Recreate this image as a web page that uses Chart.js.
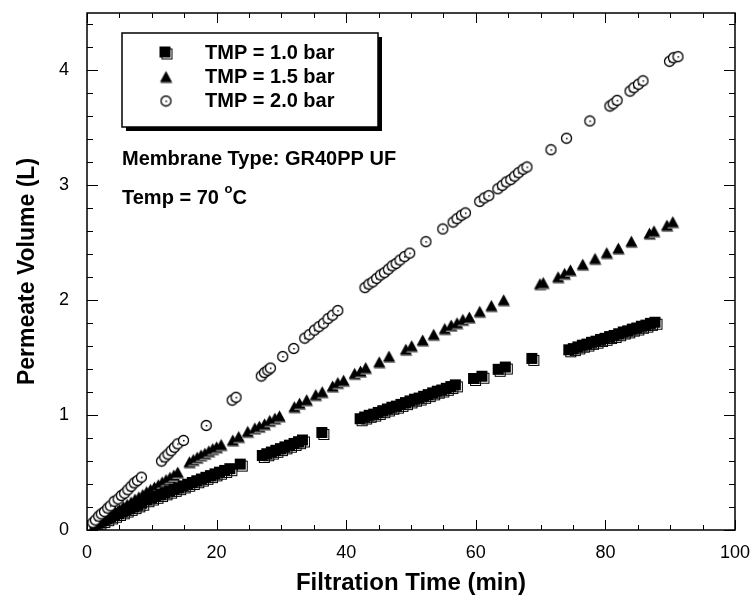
<!DOCTYPE html>
<html>
<head>
<meta charset="utf-8">
<title>Permeate Volume vs Filtration Time</title>
<script src="https://cdn.jsdelivr.net/npm/chart.js@4.4.1/dist/chart.umd.min.js"></script>
<style>
    html, body { margin: 0; padding: 0; background: #fff; }
    #wrap { width: 752px; height: 606px; }
</style>
</head>
<body>
<div id="wrap"><canvas id="fluxChart" width="752" height="606"></canvas></div>
<script>
// Data
const seriesLabels = ['TMP = 1.0 bar', 'TMP = 1.5 bar', 'TMP = 2.0 bar'];

const time10 = [1.4, 2.0, 2.6, 3.2, 3.8, 4.4, 5.0, 5.6, 6.2, 6.8, 7.4, 8.0, 8.6,
    9.4, 10.1, 10.8, 11.5, 12.2, 12.9, 13.6, 14.3, 15.0, 15.7, 16.4, 17.1, 17.8, 18.5, 19.2, 19.9, 20.6, 21.4, 22.2, 23.8,
    27.2, 27.9, 28.6, 29.3, 30.0, 30.7, 31.4, 32.1, 32.8, 33.4, 36.4,
    42.3, 43.0, 43.7, 44.4, 45.1, 45.8, 46.5, 47.2, 47.9, 48.6, 49.3, 50.0, 50.7, 51.4, 52.1, 52.8, 53.5, 54.2, 54.9, 55.6, 56.3, 57.0,
    59.8, 61.1, 63.6, 64.7, 68.8,
    74.5, 75.2, 75.9, 76.6, 77.3, 78.0, 78.7, 79.4, 80.1, 80.8, 81.5, 82.2, 82.9, 83.6, 84.3, 85.0, 85.7, 86.4, 87.1, 87.8];
const volume10 = [0.04, 0.06, 0.075, 0.09, 0.105, 0.12, 0.135, 0.15, 0.165, 0.18, 0.195, 0.21, 0.225,
    0.255, 0.27, 0.285, 0.30, 0.315, 0.33, 0.345, 0.36, 0.375, 0.39, 0.405, 0.42, 0.435, 0.45, 0.465, 0.48, 0.495, 0.51, 0.525, 0.565,
    0.64, 0.655, 0.67, 0.685, 0.70, 0.715, 0.73, 0.745, 0.76, 0.775, 0.84,
    0.96, 0.975, 0.99, 1.0, 1.015, 1.03, 1.045, 1.06, 1.07, 1.085, 1.10, 1.115, 1.13, 1.14, 1.155, 1.17, 1.185, 1.20, 1.21, 1.225, 1.24, 1.255,
    1.31, 1.33, 1.39, 1.41, 1.485,
    1.56, 1.57, 1.585, 1.60, 1.61, 1.625, 1.635, 1.65, 1.66, 1.675, 1.685, 1.70, 1.715, 1.725, 1.74, 1.75, 1.765, 1.775, 1.79, 1.80];

const time15 = [1.4, 2.0, 2.6, 3.2, 3.8, 4.4, 5.0, 5.6, 6.2, 6.8, 7.4, 8.0, 8.6, 9.2, 9.8, 10.4, 11.0, 11.6, 12.2, 12.8, 13.4, 14.0,
    15.8, 16.4, 17.0, 17.6, 18.2, 18.8, 19.4, 20.0, 20.7, 22.5, 23.4,
    24.8, 25.9, 26.6, 27.4, 28.2, 29.0, 29.7, 32.0, 32.8, 33.9, 35.3, 36.3, 37.9, 38.7, 39.6,
    41.3, 42.2, 43.0, 45.1, 46.6, 49.2, 50.1, 51.8, 53.5, 55.2, 56.2, 57.1, 58.0, 59.0, 60.6, 62.4, 64.3,
    69.9, 70.4, 72.7, 73.7, 74.6, 76.5, 78.4, 80.2, 82.0, 84.0, 86.8, 87.5, 89.5, 90.4];
const volume15 = [0.05, 0.07, 0.09, 0.11, 0.135, 0.155, 0.175, 0.20, 0.22, 0.24, 0.265, 0.285, 0.305, 0.33, 0.35, 0.37, 0.39, 0.415, 0.435, 0.455, 0.475, 0.50,
    0.59, 0.61, 0.63, 0.65, 0.665, 0.685, 0.705, 0.72, 0.74, 0.78, 0.81,
    0.855, 0.885, 0.90, 0.92, 0.95, 0.97, 0.99, 1.07, 1.10, 1.13, 1.175, 1.20, 1.25, 1.28, 1.30,
    1.36, 1.38, 1.41, 1.46, 1.51, 1.57, 1.60, 1.65, 1.70, 1.75, 1.78, 1.80, 1.83, 1.85, 1.90, 1.95, 2.00,
    2.14, 2.15, 2.20, 2.23, 2.26, 2.31, 2.36, 2.41, 2.45, 2.51, 2.58, 2.60, 2.65, 2.68];

const time20 = [0.9, 1.3, 1.8, 2.2, 2.7, 3.2, 3.6, 4.2, 4.8, 5.3, 5.8, 6.3, 6.8, 7.3, 7.8, 8.4,
    11.5, 12.0, 12.5, 13.0, 13.5, 14.0, 14.9, 18.4, 22.4, 23.0, 26.9, 27.4, 27.9, 28.3, 30.2, 31.9,
    33.6, 34.3, 35.1, 35.8, 36.5, 37.2, 37.9, 38.7,
    42.9, 43.5, 44.1, 44.7, 45.3, 45.9, 46.5, 47.1, 47.7, 48.3, 49.0, 49.8, 52.3, 54.9,
    56.5, 57.1, 57.8, 58.4, 60.6, 61.3, 62.0, 63.4, 64.1, 64.7, 65.4, 66.0, 66.6, 67.3, 67.9,
    71.6, 74.0, 77.6, 80.7, 81.2, 81.8, 83.8, 84.4, 85.1, 85.8, 89.9, 90.5, 91.2];
const volume20 = [0.064, 0.087, 0.12, 0.14, 0.16, 0.19, 0.21, 0.25, 0.27, 0.30, 0.32, 0.35, 0.38, 0.41, 0.43, 0.46,
    0.60, 0.635, 0.66, 0.69, 0.72, 0.75, 0.78, 0.91, 1.13, 1.155, 1.34, 1.37, 1.39, 1.41, 1.51, 1.58,
    1.67, 1.70, 1.74, 1.77, 1.80, 1.84, 1.87, 1.91,
    2.11, 2.14, 2.16, 2.19, 2.22, 2.24, 2.27, 2.30, 2.32, 2.35, 2.38, 2.41, 2.51, 2.62,
    2.68, 2.71, 2.74, 2.76, 2.86, 2.89, 2.91, 2.97, 3.00, 3.03, 3.05, 3.08, 3.11, 3.14, 3.16,
    3.31, 3.41, 3.56, 3.69, 3.71, 3.74, 3.82, 3.85, 3.88, 3.91, 4.08, 4.11, 4.12];

const xTicks = [0, 20, 40, 60, 80, 100];
const yTicks = [0, 1, 2, 3, 4];

const FONT = '"Liberation Sans", Arial, Helvetica, sans-serif';

// Marker images (with the little drop shadows of the original plotting program)
function makeSquare() {
    const c = document.createElement('canvas');
    c.width = 15; c.height = 15;
    const g = c.getContext('2d');
    g.strokeStyle = '#000';
    g.lineWidth = 1;
    g.strokeRect(3.5, 3.5, 10, 10);
    g.fillStyle = '#000';
    g.fillRect(1, 1, 11, 11);
    return c;
}

function makeTriangle() {
    const c = document.createElement('canvas');
    c.width = 15; c.height = 15;
    const g = c.getContext('2d');
    g.fillStyle = '#888';
    g.beginPath();
    g.moveTo(8, 3); g.lineTo(14, 14); g.lineTo(2, 14); g.closePath();
    g.fill();
    g.fillStyle = '#000';
    g.beginPath();
    g.moveTo(7.5, 1.5); g.lineTo(13.5, 12.5); g.lineTo(1.5, 12.5); g.closePath();
    g.fill();
    return c;
}

function makeCircle() {
    const c = document.createElement('canvas');
    c.width = 13; c.height = 13;
    const g = c.getContext('2d');
    g.fillStyle = '#fff';
    g.strokeStyle = '#000';
    g.lineWidth = 1.3;
    g.beginPath();
    g.arc(6.5, 6.5, 5, 0, Math.PI * 2);
    g.fill();
    g.stroke();
    g.fillStyle = '#000';
    g.fillRect(6, 6, 1.5, 1.5);
    return c;
}

const markers = [makeSquare(), makeTriangle(), makeCircle()];

function toPoints(xs, ys) {
    return xs.map((x, i) => ({ x: x, y: ys[i] }));
}

// Inward tick marks on all four sides plus the frame
const frameTicks = {
    id: 'frameTicks',
    afterDatasetsDraw(chart) {
        const ctx = chart.ctx;
        const area = chart.chartArea;
        const xs = chart.scales.x;
        const ys = chart.scales.y;
        ctx.save();
        ctx.strokeStyle = '#000';
        ctx.lineWidth = 1;
        ctx.beginPath();
        for (let v = 0; v <= 100; v += 5) {
            const px = Math.round(xs.getPixelForValue(v)) + 0.5;
            const len = v % 20 === 0 ? 10 : 5;
            ctx.moveTo(px, area.bottom); ctx.lineTo(px, area.bottom - len);
            ctx.moveTo(px, area.top); ctx.lineTo(px, area.top + len);
        }
        for (let k = 0; k <= 22; k++) {
            const v = k * 0.2;
            const py = Math.round(ys.getPixelForValue(v)) + 0.5;
            const len = k % 5 === 0 ? 11 : 6;
            ctx.moveTo(area.left, py); ctx.lineTo(area.left + len, py);
            ctx.moveTo(area.right, py); ctx.lineTo(area.right - len, py);
        }
        ctx.stroke();
        ctx.lineWidth = 1.5;
        ctx.strokeRect(area.left, area.top, area.right - area.left, area.bottom - area.top);
        ctx.restore();
    }
};

// Legend box and the two notes inside the plot
const notes = {
    id: 'notes',
    afterDraw(chart) {
        const ctx = chart.ctx;
        const bx = 122, by = 33, bw = 256, bh = 94;
        ctx.save();
        // shadow then box
        ctx.fillStyle = '#000';
        ctx.fillRect(bx + 4, by + 4, bw, bh);
        ctx.fillStyle = '#fff';
        ctx.fillRect(bx, by, bw, bh);
        ctx.strokeStyle = '#000';
        ctx.lineWidth = 1.5;
        ctx.strokeRect(bx, by, bw, bh);

        ctx.font = 'bold 20px ' + FONT;
        ctx.fillStyle = '#000';
        ctx.textBaseline = 'middle';
        const rows = [53, 77, 101];
        seriesLabels.forEach((label, i) => {
            const m = markers[i];
            ctx.drawImage(m, 166 - m.width / 2, rows[i] - m.height / 2);
            ctx.fillText(label, 205, rows[i]);
        });

        ctx.fillText('Membrane Type: GR40PP UF', 122, 159);
        ctx.fillText('Temp = 70 ', 122, 198);
        const w = ctx.measureText('Temp = 70 ').width;
        ctx.font = 'bold 13px ' + FONT;
        ctx.fillText('o', 122 + w, 189);
        const ow = ctx.measureText('o').width;
        ctx.font = 'bold 20px ' + FONT;
        ctx.fillText('C', 122 + w + ow, 198);
        ctx.restore();
    }
};

const fluxChart = new Chart(document.getElementById('fluxChart'), {
    type: 'scatter',
    data: {
        datasets: [{
            label: seriesLabels[0],
            data: toPoints(time10, volume10),
            pointStyle: markers[0],
            order: 2
        },
        {
            label: seriesLabels[1],
            data: toPoints(time15, volume15),
            pointStyle: markers[1],
            order: 3
        },
        {
            label: seriesLabels[2],
            data: toPoints(time20, volume20),
            pointStyle: markers[2],
            order: 1
        }]
    },
    options: {
        responsive: false,
        animation: false,
        layout: {
            padding: { left: 0, top: 13, right: 17, bottom: 0 }
        },
        plugins: {
            legend: { display: false },
            tooltip: { enabled: false }
        },
        scales: {
            x: {
                type: 'linear',
                min: 0,
                max: 100,
                // fixed axis band, and no extra room for the end labels
                afterFit: s => { s.height = 76; s.paddingLeft = 0; s.paddingRight = 0; },
                afterBuildTicks: s => { s.ticks = xTicks.map(v => ({ value: v })); },
                grid: { display: false, drawTicks: false },
                border: { display: false },
                ticks: {
                    color: '#000',
                    padding: 12,
                    maxRotation: 0,
                    font: { family: FONT, size: 18 }
                },
                title: {
                    display: true,
                    text: 'Filtration Time (min)',
                    color: '#000',
                    padding: { top: 0, bottom: 8 },
                    font: { family: FONT, size: 24, weight: 'bold' }
                }
            },
            y: {
                type: 'linear',
                min: 0,
                max: 4.5,
                afterFit: s => { s.width = 87; s.paddingTop = 0; s.paddingBottom = 0; },
                afterBuildTicks: s => { s.ticks = yTicks.map(v => ({ value: v })); },
                grid: { display: false, drawTicks: false },
                border: { display: false },
                ticks: {
                    color: '#000',
                    padding: 18,
                    font: { family: FONT, size: 18 }
                },
                title: {
                    display: true,
                    text: 'Permeate Volume (L)',
                    color: '#000',
                    padding: { top: 14, bottom: 0 },
                    font: { family: FONT, size: 23, weight: 'bold' }
                }
            }
        }
    },
    plugins: [frameTicks, notes]
});
</script>
</body>
</html>
